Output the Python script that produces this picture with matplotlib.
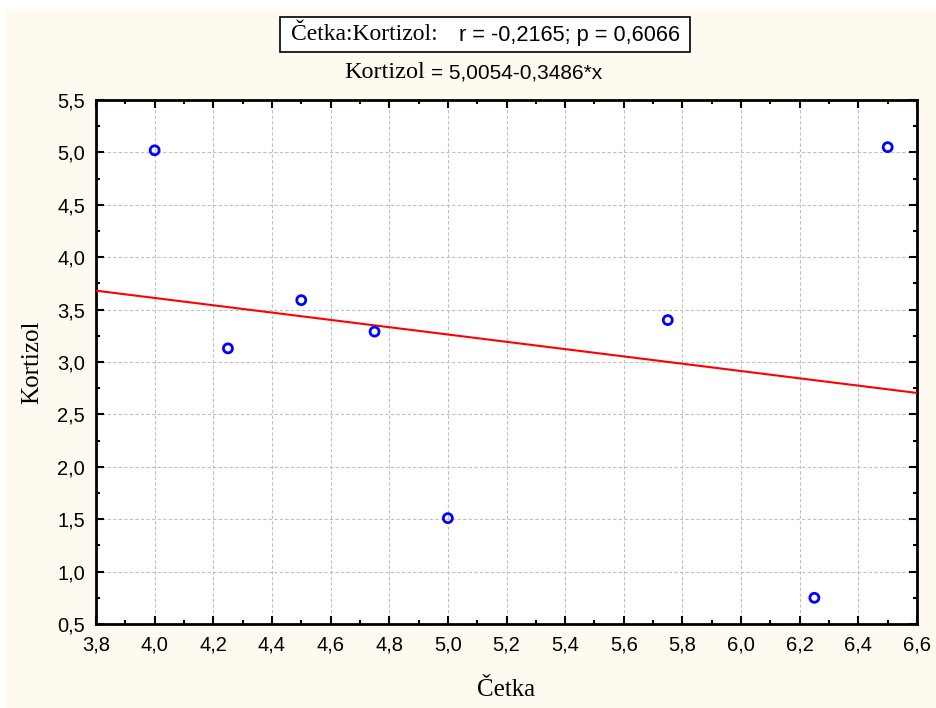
import matplotlib
matplotlib.use("Agg")
import matplotlib.pyplot as plt
import numpy as np
from matplotlib.ticker import MultipleLocator, FuncFormatter
from matplotlib.patches import Rectangle

cetka = [4.0, 4.25, 4.5, 4.75, 5.0, 5.75, 6.25, 6.5]
kortizol = [5.02, 3.13, 3.59, 3.29, 1.51, 3.40, 0.75, 5.05]
intercept = 5.0054
slope = -0.3486
title_left = "Četka:Kortizol:"
title_right = "r = -0,2165; p = 0,6066"
eq_left = "Kortizol"
eq_right = "= 5,0054-0,3486*x"

W, H = 936, 708
fig = plt.figure(figsize=(W / 100, H / 100), dpi=100)
fig.patch.set_facecolor("white")
fig.patches.append(Rectangle((6 / W, 0), 1, 1 - 10 / H, transform=fig.transFigure,
                             facecolor="#FFFAF0", edgecolor="none", zorder=-10))

ax = fig.add_axes([96 / W, 1 - 624 / H, (917 - 96) / W, (624 - 100) / H])
ax.set_facecolor("white")

ax.set_xlim(3.8, 6.6)
ax.set_ylim(0.5, 5.5)
xs = np.array([3.8, 6.6])
ax.plot(xs, intercept + slope * xs, color="#FF0000", lw=1.5, zorder=3)
ax.scatter(cetka, kortizol, s=42, facecolors="none", edgecolors="#0000FF",
           linewidths=2.0, marker="o", zorder=4)

ax.xaxis.set_major_locator(MultipleLocator(0.2))
ax.xaxis.set_minor_locator(MultipleLocator(0.1))
ax.yaxis.set_major_locator(MultipleLocator(0.5))
ax.yaxis.set_minor_locator(MultipleLocator(0.25))
fmt = FuncFormatter(lambda v, p: f"{v:.1f}".replace(".", ","))
ax.xaxis.set_major_formatter(fmt)
ax.yaxis.set_major_formatter(fmt)

ax.grid(True, which="major", color="#C0C0C0", linestyle=(0, (3, 2)), lw=0.8)
ax.set_axisbelow(True)
ax.tick_params(which="both", direction="in", top=True, right=True, width=1.5, color="black")
ax.tick_params(which="major", length=6, labelsize=14.5, pad=8)
ax.tick_params(which="minor", length=3)
for lab in ax.get_xticklabels() + ax.get_yticklabels():
    lab.set_fontfamily("Liberation Sans")
for sp in ax.spines.values():
    sp.set_linewidth(2)
    sp.set_color("black")

ax.set_xlabel("Četka", fontfamily="Liberation Serif", fontsize=18, labelpad=18)
ax.set_ylabel("Kortizol", fontfamily="Liberation Serif", fontsize=18, labelpad=10)

# title box
fig.patches.append(Rectangle((280 / W, 1 - 52 / H), (690 - 280) / W, 35 / H,
                             transform=fig.transFigure, facecolor="white",
                             edgecolor="black", lw=1.2, zorder=5))
fig.text(291 / W, 1 - 35 / H, title_left, fontfamily="Liberation Serif",
         fontsize=17, va="center", ha="left", zorder=6)
fig.text(459 / W, 1 - 35 / H, title_right, fontfamily="Liberation Sans",
         fontsize=15.7, va="center", ha="left", zorder=6)
t_eq = fig.text(344 / W, 1 - 73 / H, eq_left, fontfamily="Liberation Serif",
                fontsize=17.5, va="center", ha="left")
fig.canvas.draw()
bb = t_eq.get_window_extent()
fig.text((bb.x1 + 6) / W, 1 - 73 / H, eq_right, fontfamily="Liberation Sans",
         fontsize=15, va="center", ha="left")

fig.savefig("out.png", dpi=100, facecolor=fig.get_facecolor())
